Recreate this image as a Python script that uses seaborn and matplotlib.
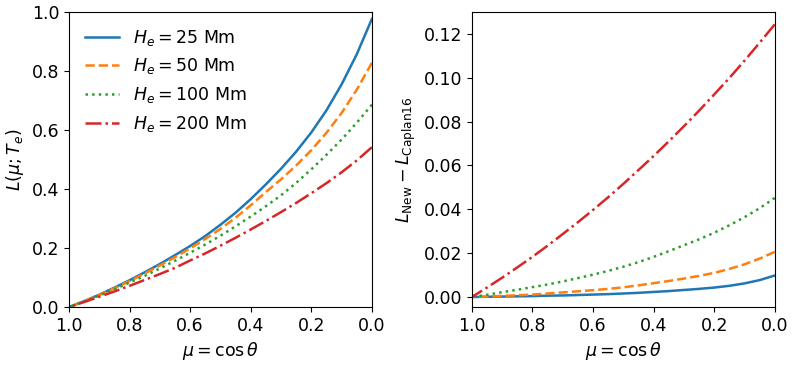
import numpy as np
import pandas as pd
import seaborn as sns
import matplotlib
matplotlib.use("Agg")
import matplotlib.pyplot as plt

mu = [1.00, 0.95, 0.90, 0.85, 0.80, 0.75, 0.70, 0.65, 0.60, 0.55, 0.50,
      0.45, 0.40, 0.35, 0.30, 0.25, 0.20, 0.15, 0.10, 0.05, 0.00]
scale_heights = ["25", "50", "100", "200"]

# left panel: L(mu; T_e)
L_25 = [0.000, 0.020, 0.042, 0.066, 0.091, 0.118, 0.146, 0.176, 0.207, 0.241, 0.279,
        0.320, 0.366, 0.416, 0.469, 0.527, 0.592, 0.667, 0.755, 0.857, 0.977]
L_50 = [0.000, 0.020, 0.041, 0.064, 0.088, 0.114, 0.141, 0.169, 0.199, 0.231, 0.265,
        0.303, 0.345, 0.390, 0.433, 0.480, 0.532, 0.591, 0.658, 0.737, 0.828]
L_100 = [0.000, 0.019, 0.039, 0.060, 0.083, 0.106, 0.131, 0.157, 0.184, 0.212, 0.242,
         0.274, 0.307, 0.342, 0.379, 0.421, 0.467, 0.516, 0.568, 0.625, 0.686]
L_200 = [0.000, 0.017, 0.035, 0.053, 0.072, 0.092, 0.112, 0.133, 0.158, 0.182, 0.208,
         0.235, 0.263, 0.292, 0.322, 0.353, 0.386, 0.420, 0.457, 0.497, 0.542]

# right panel: L_New - L_Caplan16
d_25 = [0.0000, 0.0001, 0.0002, 0.0003, 0.0004, 0.0006, 0.0007, 0.0009, 0.0011, 0.0013, 0.0016,
        0.0019, 0.0023, 0.0027, 0.0032, 0.0037, 0.0043, 0.0051, 0.0062, 0.0077, 0.0098]
d_50 = [0.0000, 0.0002, 0.0005, 0.0008, 0.0011, 0.0016, 0.0021, 0.0026, 0.0031, 0.0037, 0.0044,
        0.0053, 0.0063, 0.0073, 0.0084, 0.0096, 0.0110, 0.0128, 0.0149, 0.0175, 0.0206]
d_100 = [0.0000, 0.0010, 0.0022, 0.0033, 0.0045, 0.0057, 0.0071, 0.0086, 0.0102, 0.0119, 0.0138,
         0.0159, 0.0183, 0.0209, 0.0236, 0.0263, 0.0293, 0.0327, 0.0364, 0.0405, 0.0452]
d_200 = [0.0000, 0.0043, 0.0088, 0.0135, 0.0183, 0.0234, 0.0287, 0.0341, 0.0397, 0.0455, 0.0516,
         0.0579, 0.0643, 0.0710, 0.0779, 0.0850, 0.0924, 0.0999, 0.1078, 0.1160, 0.1244]

left_series = [L_25, L_50, L_100, L_200]
right_series = [d_25, d_50, d_100, d_200]
colors = ["tab:blue", "tab:orange", "tab:green", "tab:red"]
styles = ["-", "--", ":", "-."]

plt.rcParams["font.size"] = 12.5

fig = plt.figure(figsize=(7.93, 3.66), dpi=100)
ax1 = fig.add_axes([0.087, 0.161, 0.382, 0.806])
ax2 = fig.add_axes([0.595, 0.161, 0.382, 0.806])

for h, ys, c, ls in zip(scale_heights, left_series, colors, styles):
    sns.lineplot(x=mu, y=ys, ax=ax1, color=c, linestyle=ls, linewidth=1.8,
                 label=rf"$H_e = {h}$ Mm")
for h, ys, c, ls in zip(scale_heights, right_series, colors, styles):
    sns.lineplot(x=mu, y=ys, ax=ax2, color=c, linestyle=ls, linewidth=1.8)

ax1.set_xlim(1, 0)
ax1.set_ylim(0, 1)
ax1.set_xlabel(r"$\mu = \cos\theta$")
ax1.set_ylabel(r"$L(\mu; T_e)$")
ax1.legend(loc="upper left", frameon=False)

ax2.set_xlim(1, 0)
ax2.set_ylim(-0.0046, 0.130)
ax2.set_xlabel(r"$\mu = \cos\theta$")
ax2.set_ylabel(r"$L_{\rm New} - L_{\rm Caplan16}$")

for ax in (ax1, ax2):
    ax.set_xticks([1.0, 0.8, 0.6, 0.4, 0.2, 0.0])

fig.savefig("out.png", dpi=100)
